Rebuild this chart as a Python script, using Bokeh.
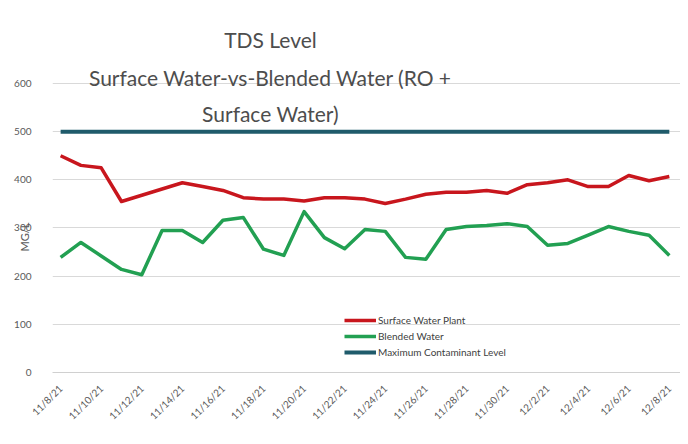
import math
from bokeh.plotting import figure
from bokeh.models import Label, FixedTicker, ColumnDataSource, Legend, LegendItem
from bokeh.embed import file_html
from bokeh.resources import INLINE

dates = ["11/8/21", "11/9/21", "11/10/21", "11/11/21", "11/12/21", "11/13/21", "11/14/21",
         "11/15/21", "11/16/21", "11/17/21", "11/18/21", "11/19/21", "11/20/21", "11/21/21",
         "11/22/21", "11/23/21", "11/24/21", "11/25/21", "11/26/21", "11/27/21", "11/28/21",
         "11/29/21", "11/30/21", "12/1/21", "12/2/21", "12/3/21", "12/4/21", "12/5/21",
         "12/6/21", "12/7/21", "12/8/21"]
surface = [450, 430, 425, 355, 368, 381, 394, 386, 378, 363, 360, 360, 356, 363, 363,
           360, 351, 360, 370, 374, 374, 378, 372, 390, 394, 400, 386, 386, 409, 398, 407]
blended = [239, 270, 242, 214, 203, 295, 295, 270, 316, 322, 256, 243, 334, 280, 257,
           297, 293, 239, 235, 297, 303, 305, 309, 303, 264, 268, 285, 303, 293, 285, 243]
mcl = [500] * 31
y_ticks = [0, 100, 200, 300, 400, 500, 600]

idx = list(range(len(dates)))
src = ColumnDataSource(dict(x=idx, surface=surface, blended=blended, mcl=mcl))

# frame spans the top of the canvas so the title (which overlaps the plot) is not clipped
p = figure(width=680, height=436, output_backend="svg", toolbar_location=None,
           x_range=(-0.4, 30.55), y_range=(0, 772.3),
           min_border_left=52, min_border_right=0, min_border_top=0, min_border_bottom=64)
p.background_fill_color = "white"
p.border_fill_color = "white"
p.outline_line_color = None

# axes
p.yaxis.ticker = FixedTicker(ticks=y_ticks)
p.yaxis.axis_line_color = None
p.yaxis.major_tick_line_color = None
p.yaxis.minor_tick_line_color = None
p.yaxis.major_label_standoff = 15
p.yaxis.major_label_text_font = "Lato"
p.yaxis.major_label_text_font_size = "10px"
p.yaxis.major_label_text_color = "#595959"
# trailing no-break spaces shift the centred label down to the middle of the 0-600 span
p.yaxis.axis_label = "MG/L" + "\u00a0" * 36
p.yaxis.axis_label_standoff = -20
p.yaxis.axis_label_text_font = "Lato"
p.yaxis.axis_label_text_font_style = "normal"
p.yaxis.axis_label_text_font_size = "11px"
p.yaxis.axis_label_text_color = "#595959"

tick_pos = idx[::2]
p.xaxis.ticker = FixedTicker(ticks=tick_pos)
p.xaxis.major_label_overrides = {i: dates[i] for i in tick_pos}
p.xaxis.major_label_orientation = math.pi / 4
p.xaxis.axis_line_color = "#d0d0d0"
p.xaxis.major_tick_line_color = None
p.xaxis.minor_tick_line_color = None
p.xaxis.major_label_text_font = "Lato"
p.xaxis.major_label_text_font_size = "10px"
p.xaxis.major_label_text_color = "#595959"
p.xaxis.major_label_standoff = 8

p.xgrid.grid_line_color = None
p.ygrid.ticker = FixedTicker(ticks=y_ticks)
p.ygrid.grid_line_color = "#d9d9d9"
p.ygrid.grid_line_width = 1

r1 = p.line("x", "surface", source=src, line_color="#c8161d", line_width=3.5, line_join="round")
r2 = p.line("x", "blended", source=src, line_color="#22a052", line_width=3.5, line_join="round")
r3 = p.line("x", "mcl", source=src, line_color="#1f5b6b", line_width=4)

legend = Legend(items=[LegendItem(label="Surface Water Plant", renderers=[r1]),
                       LegendItem(label="Blended Water", renderers=[r2]),
                       LegendItem(label="Maximum Contaminant Level", renderers=[r3])],
                location=(292, 14), background_fill_alpha=0, border_line_color=None,
                label_text_font="Lato", label_text_font_size="10px", label_text_color="#404040",
                glyph_width=32, glyph_height=10, label_standoff=2, spacing=4, padding=0,
                label_height=12)
p.add_layout(legend, "center")

# title (screen units are relative to the plot frame, origin bottom-left)
title_lines = ["TDS Level", "Surface Water-vs-Blended Water (RO +", "Surface Water)"]
title_y = [333, 295, 259]
for t, yy in zip(title_lines, title_y):
    p.add_layout(Label(x=218, y=yy, x_units="screen", y_units="screen", text=t,
                       text_align="center", text_baseline="middle", text_font="Lato",
                       text_font_size="21px", text_color="#4d4d4d"))

open("out.html", "w").write(file_html(p, INLINE))
